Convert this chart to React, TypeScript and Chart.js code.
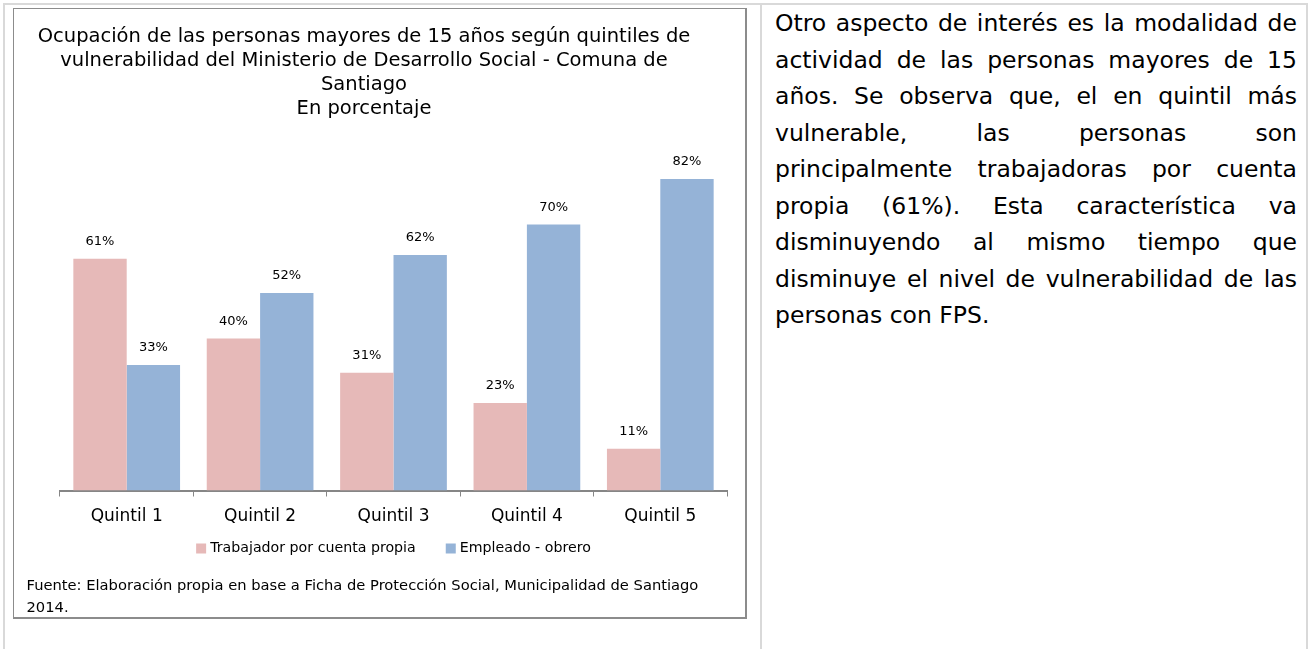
import React, { useEffect, useRef } from "react";
import { Chart, registerables } from "chart.js";

Chart.register(...registerables);

// ---------- data ----------
const categories = ["Quintil 1", "Quintil 2", "Quintil 3", "Quintil 4", "Quintil 5"];
const seriesLabels = ["Trabajador por cuenta propia", "Empleado - obrero"];
const trabajadorCuentaPropia = [61, 40, 31, 23, 11];
const empleadoObrero = [33, 52, 62, 70, 82];
const seriesColors = ["#E6B9B8", "#95B3D7"];
const yMax = 90;

const titleLines = [
  "Ocupación de las personas mayores de 15 años según quintiles de",
  "vulnerabilidad del Ministerio de Desarrollo Social - Comuna de",
  "Santiago",
  "En porcentaje",
];
const sourceLines = [
  "Fuente: Elaboración propia en base a Ficha de Protección Social, Municipalidad de Santiago",
  "2014.",
];
const paragraphLines = [
  "Otro aspecto de interés es la modalidad de",
  "actividad de las personas mayores de 15",
  "años. Se observa que, el en quintil más",
  "vulnerable, las personas son",
  "principalmente trabajadoras por cuenta",
  "propia (61%). Esta característica va",
  "disminuyendo al mismo tiempo que",
  "disminuye el nivel de vulnerabilidad de las",
  "personas con FPS.",
];

const FONT = "'DejaVu Sans', sans-serif";

// ---------- plugins ----------
const barLabels = {
  id: "barLabels",
  afterDatasetsDraw(chart: any) {
    const { ctx } = chart;
    ctx.save();
    ctx.font = `13px ${FONT}`;
    ctx.fillStyle = "#000";
    ctx.textAlign = "center";
    ctx.textBaseline = "middle";
    chart.data.datasets.forEach((ds: any, i: number) => {
      chart.getDatasetMeta(i).data.forEach((bar: any, j: number) => {
        ctx.fillText(`${ds.data[j]}%`, bar.x, bar.y - 17);
      });
    });
    ctx.restore();
  },
};

// legend (centred under the plot area) and source note
const notes = {
  id: "notes",
  afterDraw(chart: any) {
    const { ctx, chartArea } = chart;
    ctx.save();
    const ly = chartArea.bottom + 58;
    const box = 10;
    const textGap = 4;
    const itemGap = 30;
    ctx.font = `14.2px ${FONT}`;
    ctx.textBaseline = "middle";
    ctx.textAlign = "left";
    const items = chart.data.datasets.map((ds: any) => ({
      label: ds.label,
      color: ds.backgroundColor,
      w: box + textGap + ctx.measureText(ds.label).width,
    }));
    const total =
      items.reduce((s: number, it: any) => s + it.w, 0) + itemGap * (items.length - 1);
    let x = (chartArea.left + chartArea.right) / 2 - total / 2;
    items.forEach((it: any) => {
      ctx.fillStyle = it.color;
      ctx.fillRect(x, ly - box / 2, box, box);
      ctx.fillStyle = "#000";
      ctx.fillText(it.label, x + box + textGap, ly);
      x += it.w + itemGap;
    });
    ctx.font = `14.7px ${FONT}`;
    sourceLines.forEach((line, k) => {
      ctx.fillText(line, 26.5, chartArea.bottom + 95.5 + k * 22.6);
    });
    ctx.restore();
  },
};

function BarChart() {
  const ref = useRef<HTMLCanvasElement | null>(null);
  useEffect(() => {
    if (!ref.current) return;
    const chart = new Chart(ref.current, {
      type: "bar",
      data: {
        labels: categories,
        datasets: [
          {
            label: seriesLabels[0],
            data: trabajadorCuentaPropia,
            backgroundColor: seriesColors[0],
            borderWidth: 0,
            categoryPercentage: 0.8,
            barPercentage: 1,
          },
          {
            label: seriesLabels[1],
            data: empleadoObrero,
            backgroundColor: seriesColors[1],
            borderWidth: 0,
            categoryPercentage: 0.8,
            barPercentage: 1,
          },
        ],
      },
      options: {
        animation: false,
        responsive: true,
        maintainAspectRatio: false,
        layout: { padding: { left: 1, right: 20, top: 0, bottom: 0 } },
        plugins: {
          legend: { display: false },
          tooltip: { enabled: false },
          title: {
            display: true,
            text: titleLines,
            color: "#000",
            font: { family: FONT, size: 19.5, weight: "normal", lineHeight: "24px" },
            padding: { top: 24.7, bottom: 27.8 },
          },
        },
        scales: {
          x: {
            offset: true,
            grid: {
              display: true,
              offset: true,
              drawOnChartArea: false,
              drawTicks: true,
              tickLength: 6,
              color: "#868686",
              lineWidth: 1,
            },
            border: { display: true, color: "#868686", width: 2 },
            ticks: {
              font: { family: FONT, size: 17 },
              color: "#000",
              padding: 10.3,
              maxRotation: 0,
              autoSkip: false,
            },
            afterFit: (s: any) => {
              s.height = 128.5;
            },
          },
          y: {
            display: true,
            min: 0,
            max: yMax,
            grid: { display: false },
            border: { display: false },
            ticks: { display: false },
            afterFit: (s: any) => {
              s.width = 59;
            },
          },
        },
      },
      plugins: [barLabels, notes],
    } as any);
    return () => chart.destroy();
  }, []);
  return (
    <div style={{ position: "absolute", left: 0, top: 0, width: 747, height: 619 }}>
      <canvas ref={ref} />
    </div>
  );
}

export default function App() {
  const line = "#d9d9d9";
  return (
    <div
      style={{
        position: "fixed",
        left: 0,
        top: 0,
        width: 1312,
        height: 649,
        background: "#fff",
        overflow: "hidden",
      }}
    >
      {/* table borders */}
      <div style={{ position: "absolute", left: 3, top: 3, width: 1305, height: 2, background: line }} />
      <div style={{ position: "absolute", left: 3, top: 3, width: 2, height: 646, background: line }} />
      <div style={{ position: "absolute", left: 760, top: 3, width: 2, height: 646, background: line }} />
      <div style={{ position: "absolute", left: 1306, top: 3, width: 2, height: 646, background: line }} />

      <BarChart />

      {/* chart frame */}
      <div
        style={{
          position: "absolute",
          left: 13,
          top: 8,
          width: 734,
          height: 611,
          boxSizing: "border-box",
          borderTop: "1px solid #8c8c8c",
          borderLeft: "1px solid #8c8c8c",
          borderRight: "2px solid #8c8c8c",
          borderBottom: "2px solid #8c8c8c",
          pointerEvents: "none",
        }}
      />

      {/* paragraph */}
      <div
        style={{
          position: "absolute",
          left: 775,
          top: 5,
          width: 522,
          fontFamily: FONT,
          fontSize: 23.5,
          lineHeight: "36.5px",
          color: "#000",
        }}
      >
        {paragraphLines.map((t, i) => (
          <div
            key={i}
            style={{
              textAlign: i === paragraphLines.length - 1 ? "left" : "justify",
              textAlignLast: i === paragraphLines.length - 1 ? "left" : "justify",
            }}
          >
            {t}
          </div>
        ))}
      </div>
    </div>
  );
}
